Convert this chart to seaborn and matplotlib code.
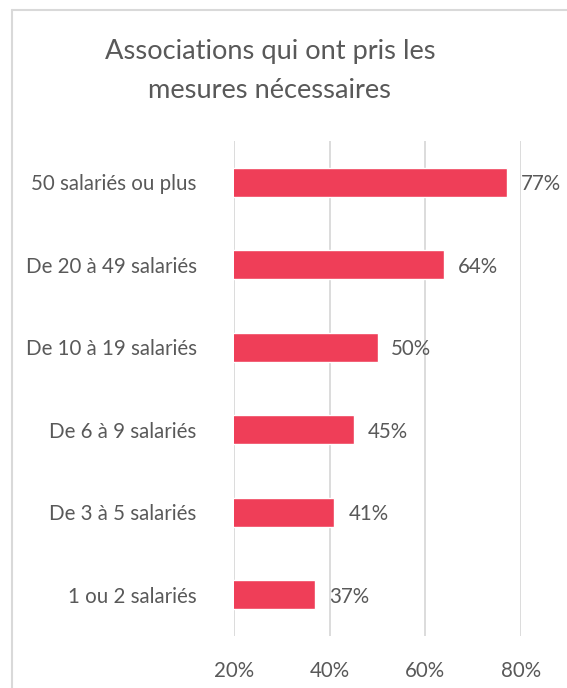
import matplotlib
matplotlib.use("Agg")
import matplotlib.pyplot as plt
import seaborn as sns
import pandas as pd

# data
categories = ["50 salariés ou plus", "De 20 à 49 salariés", "De 10 à 19 salariés",
              "De 6 à 9 salariés", "De 3 à 5 salariés", "1 ou 2 salariés"]
values = [77, 64, 50, 45, 41, 37]
ticks = [20, 40, 60, 80]

bar_color = "#EF3E58"
text_color = "#595959"
grid_color = "#D9D9D9"

sns.set_theme(style="white")
plt.rcParams['font.family'] = ['Lato', 'DejaVu Sans']

df = pd.DataFrame({"cat": categories, "val": values})

fig = plt.figure(figsize=(5.67, 6.88), dpi=100)
ax = fig.add_axes([234/567, 1 - 636/688, (521 - 234)/567, (636 - 141)/688])

sns.barplot(data=df, x="val", y="cat", color=bar_color, width=0.35,
            saturation=1, ax=ax, orient="h")

ax.set_xlim(20, 80)
ax.set_xticks(ticks)
ax.set_xticklabels([f"{t}%" for t in ticks])
for t in ticks:
    ax.axvline(t, color=grid_color, lw=1.3, zorder=0)

ax.set_xlabel("")
ax.set_ylabel("")
sns.despine(ax=ax, left=True, bottom=True)
ax.tick_params(axis="both", length=0, labelsize=14.8, colors=text_color)
ax.tick_params(axis="x", pad=18)
ax.tick_params(axis="y", pad=27)

for i, v in enumerate(values):
    ax.annotate(f"{v}%", (v, i), xytext=(10, -1.5), textcoords="offset points",
                va="center", ha="left", fontsize=14.8, color=text_color)

fig.text(270/567, 1 - 71/688,
         "Associations qui ont pris les\nmesures nécessaires",
         ha="center", va="center", fontsize=19.6, color=text_color, linespacing=1.65)

# chart frame (left and top edges visible)
fig.add_artist(plt.Line2D([12/567, 12/567], [0, 1 - 10/688], color=grid_color, lw=1.5,
                          transform=fig.transFigure))
fig.add_artist(plt.Line2D([12/567, 1], [1 - 10/688, 1 - 10/688], color=grid_color, lw=1.5,
                          transform=fig.transFigure))

fig.savefig("out.png", dpi=100)
